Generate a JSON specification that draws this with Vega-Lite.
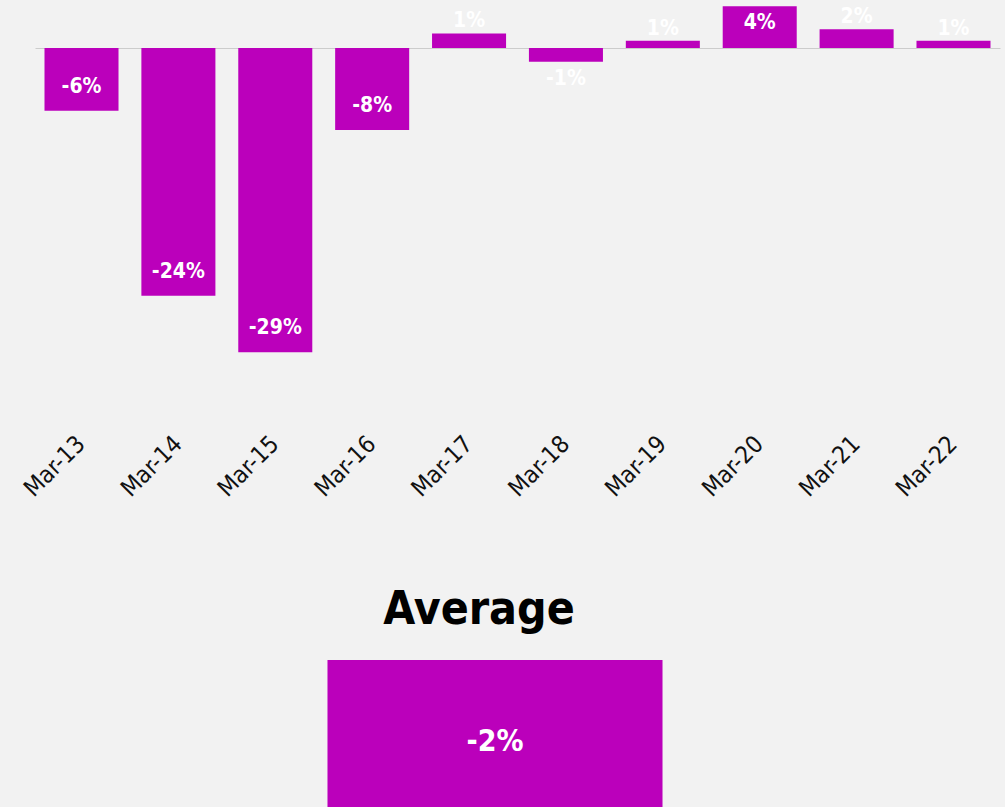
{
  "$schema": "https://vega.github.io/schema/vega-lite/v6.json",
  "background": "#f2f2f2",
  "padding": {"left": 19, "top": 0, "right": 18, "bottom": 0},
  "config": {
    "view": {"stroke": null},
    "font": "DejaVu Sans Condensed, DejaVu Sans, sans-serif"
  },
  "vconcat": [
    {
      "width": 965,
      "height": 440,
      "data": {"values": [
        {"date": "Mar-13", "value": -0.060, "label": "-6%"},
        {"date": "Mar-14", "value": -0.237, "label": "-24%"},
        {"date": "Mar-15", "value": -0.291, "label": "-29%"},
        {"date": "Mar-16", "value": -0.0785, "label": "-8%"},
        {"date": "Mar-17", "value": 0.014, "label": "1%"},
        {"date": "Mar-18", "value": -0.013, "label": "-1%"},
        {"date": "Mar-19", "value": 0.007, "label": "1%"},
        {"date": "Mar-20", "value": 0.040, "label": "4%"},
        {"date": "Mar-21", "value": 0.018, "label": "2%"},
        {"date": "Mar-22", "value": 0.007, "label": "1%"}
      ]},
      "layer": [
        {
          "mark": {"type": "bar", "color": "#bb00bb"},
          "encoding": {
            "x": {
              "field": "date", "type": "ordinal",
              "scale": {"paddingInner": 0.236, "paddingOuter": 0.098},
              "axis": {
                "title": null, "domain": false, "ticks": false,
                "labelAngle": -45, "labelAlign": "right", "labelBaseline": "middle",
                "labelFontSize": 24, "labelColor": "#111111", "labelPadding": 0,
                "labelFont": "DejaVu Sans Condensed, DejaVu Sans, sans-serif"
              }
            },
            "y": {
              "field": "value", "type": "quantitative",
              "scale": {"domain": [-0.375, 0.046], "nice": false},
              "axis": {
                "title": null, "values": [0], "grid": true, "gridColor": "#cccccc", "gridWidth": 1,
                "domain": false, "ticks": false, "labels": false
              }
            }
          }
        },
        {
          "transform": [{"filter": "datum.value < -0.03"}],
          "mark": {"type": "text", "color": "#ffffff", "fontWeight": "bold", "fontSize": 21, "baseline": "middle", "dy": -24},
          "encoding": {
            "x": {"field": "date", "type": "ordinal"},
            "y": {"field": "value", "type": "quantitative"},
            "text": {"field": "label"}
          }
        },
        {
          "transform": [{"filter": "datum.value < 0 && datum.value >= -0.03"}],
          "mark": {"type": "text", "color": "#ffffff", "fontWeight": "bold", "fontSize": 21, "baseline": "middle", "dy": 17},
          "encoding": {
            "x": {"field": "date", "type": "ordinal"},
            "y": {"field": "value", "type": "quantitative"},
            "text": {"field": "label"}
          }
        },
        {
          "transform": [{"filter": "datum.value > 0 && datum.value < 0.03"}],
          "mark": {"type": "text", "color": "#ffffff", "fontWeight": "bold", "fontSize": 21, "baseline": "middle", "dy": -12},
          "encoding": {
            "x": {"field": "date", "type": "ordinal"},
            "y": {"field": "value", "type": "quantitative"},
            "text": {"field": "label"}
          }
        },
        {
          "transform": [{"filter": "datum.value >= 0.03"}],
          "mark": {"type": "text", "color": "#ffffff", "fontWeight": "bold", "fontSize": 21, "baseline": "middle", "dy": 17},
          "encoding": {
            "x": {"field": "date", "type": "ordinal"},
            "y": {"field": "value", "type": "quantitative"},
            "text": {"field": "label"}
          }
        }
      ]
    },
    {
      "width": 920,
      "height": 150,
      "data": {"values": [
        {"name": "Average", "value": -0.02, "label": "-2%"}
      ]},
      "title": {
        "text": "Average", "fontSize": 46, "fontWeight": "bold", "color": "#000000",
        "font": "DejaVu Sans Condensed, DejaVu Sans, sans-serif",
        "anchor": "middle", "offset": 26, "dx": -16
      },
      "layer": [
        {
          "mark": {"type": "bar", "color": "#bb00bb"},
          "encoding": {
            "x": {
              "field": "name", "type": "nominal", "axis": null,
              "scale": {"paddingInner": 0, "paddingOuter": 0.873}
            },
            "y": {
              "field": "value", "type": "quantitative",
              "scale": {"domain": [-0.02, 0], "nice": false}, "axis": null
            }
          }
        },
        {
          "mark": {"type": "text", "color": "#ffffff", "fontWeight": "bold", "fontSize": 30, "baseline": "middle", "dy": -68},
          "encoding": {
            "x": {"field": "name", "type": "nominal"},
            "y": {"field": "value", "type": "quantitative"},
            "text": {"field": "label"}
          }
        }
      ]
    }
  ],
  "spacing": 85
}
